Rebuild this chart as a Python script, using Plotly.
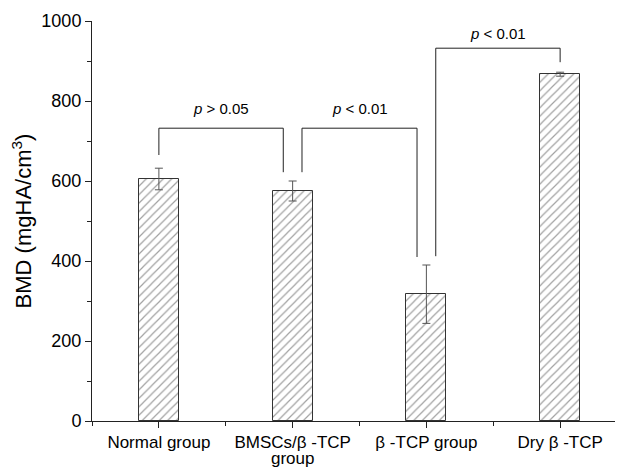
import plotly.graph_objects as go

categories = ["Normal group", "BMSCs/β -TCP", "β -TCP group", "Dry β -TCP"]
category_second_line = ["", "group", "", ""]
bmd_values = [605, 575, 317, 867]
bmd_errors = [27, 25, 73, 5]

# significance brackets: x positions (category units) and y levels (BMD units)
bracket_x = [[0.0, 0.0, 0.93, 0.93], [1.07, 1.07, 1.93, 1.93], [2.07, 2.07, 3.0, 3.0]]
bracket_y = [[665, 732, 732, 622], [622, 732, 732, 410], [412, 932, 932, 897]]
bracket_text = ["<i>p</i> > 0.05", "<i>p</i> < 0.01", "<i>p</i> < 0.01"]
label_x = [0.465, 1.5, 2.535]
label_y = [782, 782, 970]

xpos = list(range(len(categories)))
FONT = "Liberation Sans, Arial, sans-serif"

fig = go.Figure()
fig.add_trace(go.Bar(
    x=xpos, y=bmd_values, width=0.3,
    marker=dict(color="white", line=dict(color="#333333", width=1),
                pattern=dict(shape="/", fgcolor="#444444", bgcolor="white", size=6, solidity=0.2)),
    error_y=dict(type="data", array=bmd_errors, visible=True, color="#555555", thickness=1, width=4),
    showlegend=False,
))

for bx, by in zip(bracket_x, bracket_y):
    fig.add_trace(go.Scatter(x=bx, y=by, mode="lines", line=dict(color="#222222", width=1),
                             showlegend=False, hoverinfo="skip"))

for t, lx, ly in zip(bracket_text, label_x, label_y):
    fig.add_annotation(x=lx, y=ly, text=t, showarrow=False, font=dict(family=FONT, size=15, color="black"))

for xp, t in zip(xpos, category_second_line):
    if t:
        fig.add_annotation(x=xp, xref="x", y=-0.093, yref="paper", text=t, showarrow=False,
                           yanchor="middle", font=dict(family=FONT, size=17, color="black"))

fig.update_layout(
    width=623, height=468,
    margin=dict(l=84, r=8, t=13, b=55),
    plot_bgcolor="white", paper_bgcolor="white",
    font=dict(family=FONT, color="black"),
    bargap=0,
)
fig.update_xaxes(
    range=[-0.5, 3.47], tickvals=xpos, ticktext=categories, automargin=False,
    showgrid=False, zeroline=False, showline=True, linecolor="#222222", linewidth=1,
    ticks="outside", ticklen=6, tickcolor="#222222",
    minor=dict(tick0=0.5, dtick=1, ticks="outside", ticklen=4, tickcolor="#222222", showgrid=False),
    tickfont=dict(family=FONT, size=17, color="black"),
)
fig.update_yaxes(
    range=[0, 1000], tickvals=[0, 200, 400, 600, 800, 1000], automargin=False,
    showgrid=False, zeroline=False, showline=True, linecolor="#222222", linewidth=1,
    ticks="outside", ticklen=6, tickcolor="#222222",
    minor=dict(tickvals=[100, 300, 500, 700, 900], ticks="outside", ticklen=4, tickcolor="#222222", showgrid=False),
    tickfont=dict(family=FONT, size=18, color="black"),
    title=dict(text="BMD (mgHA/cm<sup>3</sup>)", font=dict(family=FONT, size=22, color="black"), standoff=6),
)

fig.write_html("out.html")
